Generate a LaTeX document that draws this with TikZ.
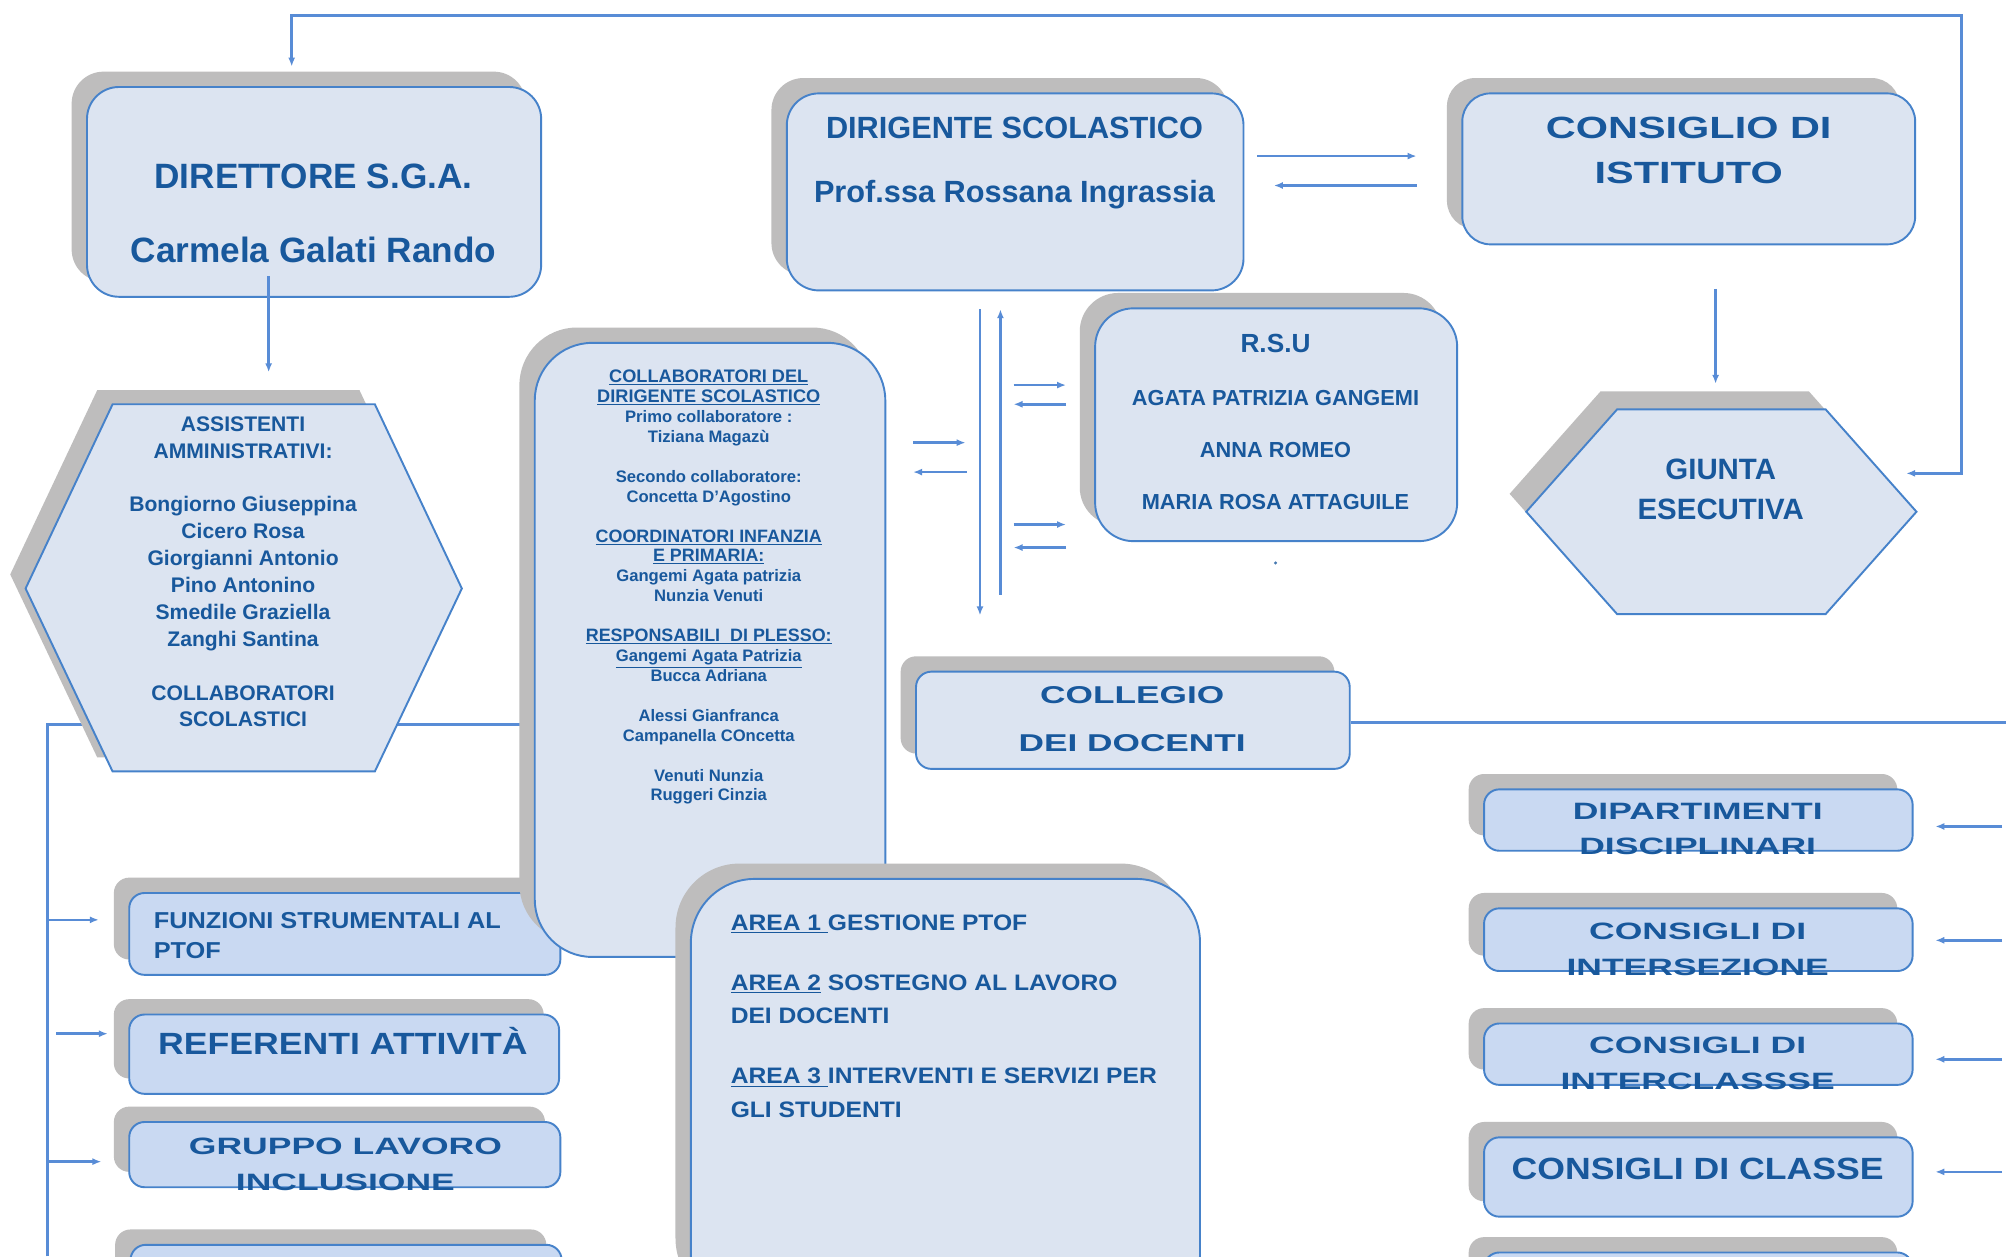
\documentclass[tikz,border=0pt]{standalone}
\usepackage{fontspec}
\setmainfont{Liberation Sans}
\newfontfamily\wideA{Liberation Sans}[FakeStretch=1.5]
\newfontfamily\wideB{Liberation Sans}[FakeStretch=1.45]
\newfontfamily\wideC{Liberation Sans}[FakeStretch=1.35]
\newfontfamily\semiA{Liberation Sans}[FakeStretch=1.16]
\newfontfamily\semiB{Liberation Sans}[FakeStretch=1.1]
\usetikzlibrary{shadows,arrows.meta,calc}
\definecolor{fillc}{RGB}{220,228,241}
\definecolor{fills}{RGB}{201,217,242}
\definecolor{bordc}{RGB}{70,130,202}
\definecolor{shadc}{RGB}{190,189,189}
\definecolor{linec}{RGB}{88,140,214}
\definecolor{txtc}{RGB}{24,88,156}
\tikzset{
  shad/.style={general shadow={fill=shadc, shadow xshift=-12pt, shadow yshift=12pt}},
  bigbox/.style={draw=bordc, line width=1.5pt, fill=fillc, rounded corners=#1, shad, inner sep=0pt},
  smallbox/.style={draw=bordc, line width=1.5pt, fill=fills, rounded corners=12pt, shad, inner sep=0pt},
  txt/.style={text=txtc, inner sep=0pt, align=center},
  conn/.style={draw=linec, line width=2pt},
  arr/.style={conn, -{Latex[length=7pt,width=5.5pt]}},
  arrb/.style={conn, {Latex[length=7pt,width=5.5pt]}-{Latex[length=7pt,width=5.5pt]}},
}
\begin{document}
\begin{tikzpicture}[x=1pt,y=-1pt]
\clip (0,0) rectangle (1568,982);
\fill[white] (0,0) rectangle (1568,982);

% background connector (behind the hexagon)
\coordinate (lcB) at (37,982);
\coordinate (lcC) at (37,566);
\coordinate (lcE) at (418,566);
\draw[conn, line width=2.2pt] (lcB) -- (lcC) -- (lcE);

% ---------- boxes ----------
\node[bigbox=25pt, minimum width=355pt, minimum height=164pt] (dir) at (245.5,150) {};
\node[bigbox=25pt, minimum width=357pt, minimum height=154pt] (ds) at (793.5,150) {};
\node[bigbox=22pt, minimum width=354pt, minimum height=118pt] (ci) at (1320,132) {};
\node[bigbox=30pt, minimum width=283pt, minimum height=182pt] (rsu) at (997.5,332) {};

% hexagon: assistenti
\fill[shadc, shift={(-12pt,11pt)}] (20,460) -- (88,316) -- (293,316) -- (361,460) -- (293,603) -- (88,603) -- cycle;
\filldraw[fill=fillc, draw=bordc, line width=1.5pt] (20,460) -- (88,316) -- (293,316) -- (361,460) -- (293,603) -- (88,603) -- cycle;
% hexagon: giunta
\fill[shadc, shift={(-13pt,14pt)}] (1193,400) -- (1264,320) -- (1427,320) -- (1498,400) -- (1427,480) -- (1264,480) -- cycle;
\filldraw[fill=fillc, draw=bordc, line width=1.5pt] (1193,400) -- (1264,320) -- (1427,320) -- (1498,400) -- (1427,480) -- (1264,480) -- cycle;

\node[smallbox, minimum width=337pt, minimum height=64pt] (fun) at (269.5,730) {};
\node[smallbox, minimum width=336pt, minimum height=62pt] (ref) at (269,824) {};
\node[smallbox, minimum width=337pt, minimum height=51pt] (glo) at (269.5,902.5) {};
\node[smallbox, minimum width=337pt, minimum height=57pt] (bl) at (270.5,1001.5) {};

\node[bigbox=45pt, minimum width=274pt, minimum height=480pt] (collab) at (555,508) {};
\node[bigbox=50pt, minimum width=398pt, minimum height=343pt] (area) at (739,858.5) {};
\node[bigbox=12pt, minimum width=339pt, minimum height=76pt] (coll) at (885.5,563) {};

\node[smallbox, minimum width=335pt, minimum height=48pt] (dip) at (1327.5,641) {};
\node[smallbox, minimum width=335pt, minimum height=49pt] (cis) at (1327.5,734.5) {};
\node[smallbox, minimum width=335pt, minimum height=48pt] (cic) at (1327.5,824) {};
\node[smallbox, minimum width=335pt, minimum height=62pt] (cc) at (1327.5,920) {};
\node[smallbox, minimum width=335pt, minimum height=51pt] (br) at (1327.5,1004.5) {};

% ---------- texts ----------
\node[txt, font=\bfseries\fontsize{27.5}{58}\selectfont] (tdir) at (245,167) {DIRETTORE S.G.A.\\Carmela Galati Rando};
\node[txt, font=\bfseries\fontsize{24}{50}\selectfont] (tds) at (793,127.5) {DIRIGENTE SCOLASTICO\\Prof.ssa Rossana Ingrassia};
\node[txt, font=\wideC\bfseries\fontsize{24}{35}\selectfont] (tci) at (1320,117.5) {CONSIGLIO DI\\ISTITUTO};
\node[txt, font=\bfseries\fontsize{23}{31}\selectfont] (giunta) at (1345,382.5) {GIUNTA\\ESECUTIVA};
\node[txt, font=\bfseries\fontsize{17}{41}\selectfont] (trsu) at (997,330) {{\fontsize{20.5}{41}\selectfont R.S.U}\\AGATA PATRIZIA GANGEMI\\ANNA ROMEO\\MARIA ROSA ATTAGUILE};
\node[circle, fill=txtc!80, inner sep=0pt, minimum size=2.6pt] (dot) at (997,440) {};
\node[txt, font=\bfseries\fontsize{16.5}{21}\selectfont] (asst) at (190,447) {ASSISTENTI\\AMMINISTRATIVI:\\[21pt]Bongiorno Giuseppina\\Cicero Rosa\\Giorgianni Antonio\\Pino Antonino\\Smedile Graziella\\Zanghi Santina\\[21pt]COLLABORATORI\\SCOLASTICI};
\node[txt, font=\bfseries\fontsize{13}{15.57}\selectfont] (tcollab) at (554,459) {%
{\fontsize{14.2}{15.57}\selectfont\underline{COLLABORATORI DEL}}\\
{\fontsize{14.2}{15.57}\selectfont\underline{DIRIGENTE SCOLASTICO}}\\
Primo collaboratore :\\Tiziana Magazù\\[15.57pt]
Secondo collaboratore:\\Concetta D'Agostino\\[15.57pt]
{\fontsize{14}{15.57}\selectfont\underline{COORDINATORI INFANZIA}}\\
{\fontsize{14}{15.57}\selectfont\underline{E PRIMARIA:}}\\
Gangemi Agata patrizia\\Nunzia Venuti\\[15.57pt]
{\fontsize{14}{15.57}\selectfont\underline{RESPONSABILI\ \ DI PLESSO:}}\\
\underline{Gangemi Agata Patrizia}\\Bucca Adriana\\[15.57pt]
Alessi Gianfranca\\Campanella COncetta\\[15.57pt]
Venuti Nunzia\\Ruggeri Cinzia};
\node[txt, font=\wideB\bfseries\fontsize{19}{38}\selectfont] (tcoll) at (885,562) {COLLEGIO\\DEI DOCENTI};
\node[txt, align=left, anchor=north west, font=\semiB\bfseries\fontsize{17.5}{26}\selectfont] (tarea) at (571,714.7) {%
\underline{AREA 1\ }GESTIONE PTOF\\[21pt]
\underline{AREA 2} SOSTEGNO AL LAVORO\\DEI DOCENTI\\[21pt]
\underline{AREA 3\ }INTERVENTI E SERVIZI PER\\GLI STUDENTI};
\node[txt, align=left, anchor=north west, font=\semiB\bfseries\fontsize{18}{24}\selectfont] (tfun) at (120,712.6) {FUNZIONI STRUMENTALI AL\\PTOF};
\node[txt, anchor=base, font=\semiA\bfseries\fontsize{24}{28}\selectfont] (tref) at (268,824.6) {REFERENTI ATTIVITÀ};
\node[txt, font=\wideA\bfseries\fontsize{18.5}{28}\selectfont] (tglo) at (270,910) {GRUPPO LAVORO\\INCLUSIONE};
\node[txt, font=\wideA\bfseries\fontsize{18.5}{28}\selectfont] (tdip) at (1327,648) {DIPARTIMENTI\\DISCIPLINARI};
\node[txt, font=\wideA\bfseries\fontsize{18.5}{28}\selectfont] (tcis) at (1327,742) {CONSIGLI DI\\INTERSEZIONE};
\node[txt, font=\wideA\bfseries\fontsize{18.5}{28}\selectfont] (tcic) at (1327,831) {CONSIGLI DI\\INTERCLASSSE};
\node[txt, anchor=base, font=\semiA\bfseries\fontsize{24}{28}\selectfont] (tcc) at (1327,921.6) {CONSIGLI DI CLASSE};

% ---------- connectors ----------
\coordinate (dirIn) at (228,52);
\coordinate (gIn) at (1490,370);
\draw[arrb, line width=2.4pt] (dirIn) -- (228,12) -- (1533,12) -- (1533,370) -- (gIn);

\coordinate (asstIn) at (210,291);
\draw[arr] ([xshift=-35.5pt,yshift=17pt]dir.south) -- (asstIn);

\draw[arr] ([xshift=10pt,yshift=28pt]ds.east) -- ([xshift=-35pt,yshift=10pt]ci.west);
\draw[arr] ([xshift=-35pt,yshift=-13pt]ci.west) -- ([xshift=23pt,yshift=5pt]ds.east);

\coordinate (gTop) at (1341,300);
\draw[arr] ([xshift=21pt,yshift=-34pt]ci.south) -- (gTop);

\coordinate (vA) at (766,481);
\coordinate (vB) at (782,465);
\draw[arr] ([xshift=-27.5pt,yshift=-14pt]ds.south) -- (vA);
\draw[arr] (vB) -- ([xshift=-11.5pt,yshift=-14pt]ds.south);

\draw[arr] ([xshift=-63pt,yshift=31pt]rsu.west) -- ([xshift=-22pt,yshift=31pt]rsu.west);
\draw[arr] ([xshift=-22pt,yshift=16pt]rsu.west) -- ([xshift=-63pt,yshift=16pt]rsu.west);
\draw[arr] ([xshift=-63pt,yshift=-78pt]rsu.west) -- ([xshift=-22pt,yshift=-78pt]rsu.west);
\draw[arr] ([xshift=-22pt,yshift=-96pt]rsu.west) -- ([xshift=-63pt,yshift=-96pt]rsu.west);

\draw[arr] ([xshift=21pt,yshift=162pt]collab.east) -- ([xshift=62pt,yshift=162pt]collab.east);
\draw[arr] ([xshift=63pt,yshift=139pt]collab.east) -- ([xshift=21pt,yshift=139pt]collab.east);

\coordinate (rEnd) at (1568,565);
\draw[conn, line width=2.2pt] ([yshift=-2pt]coll.east) -- (rEnd);

\coordinate (lf) at (37,719);
\coordinate (lr) at (44,808);
\coordinate (lg) at (37,908);
\draw[arr] (lf) -- ([xshift=-23pt,yshift=11pt]fun.west);
\draw[arr] (lr) -- ([xshift=-16pt,yshift=16pt]ref.west);
\draw[arr] (lg) -- ([xshift=-21pt,yshift=-5.5pt]glo.west);

\coordinate (r1) at (1565,646);
\coordinate (r2) at (1565,735);
\coordinate (r3) at (1565,828);
\coordinate (r4) at (1565,916);
\draw[arr] (r1) -- ([xshift=17pt,yshift=-5pt]dip.east);
\draw[arr] (r2) -- ([xshift=17pt,yshift=-0.5pt]cis.east);
\draw[arr] (r3) -- ([xshift=17pt,yshift=-4pt]cic.east);
\draw[arr] (r4) -- ([xshift=17pt,yshift=4pt]cc.east);
\end{tikzpicture}
\end{document}
